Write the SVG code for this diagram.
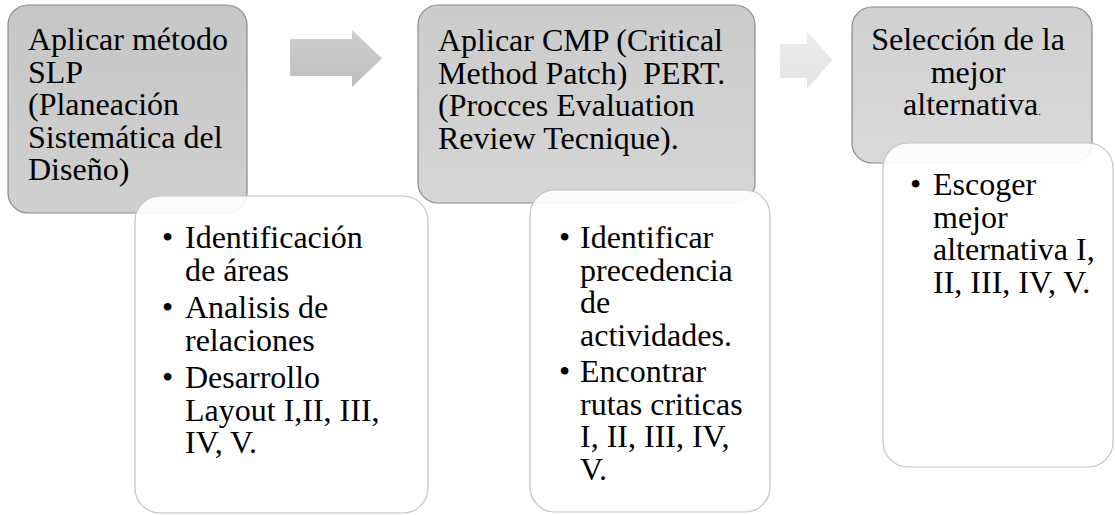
<svg xmlns="http://www.w3.org/2000/svg" width="1115" height="515" viewBox="0 0 1115 515">
  <defs>
    <linearGradient id="g1" x1="0" y1="0" x2="0" y2="1">
      <stop offset="0" stop-color="#c6c6c6"/>
      <stop offset="1" stop-color="#d0d0d0"/>
    </linearGradient>
    <linearGradient id="g2" x1="0" y1="0" x2="0" y2="1">
      <stop offset="0" stop-color="#cbcbcb"/>
      <stop offset="1" stop-color="#d6d6d6"/>
    </linearGradient>
    <linearGradient id="g3" x1="0" y1="0" x2="0" y2="1">
      <stop offset="0" stop-color="#d0d0d0"/>
      <stop offset="1" stop-color="#dadada"/>
    </linearGradient>
    <linearGradient id="ga1" x1="0" y1="0" x2="0" y2="1">
      <stop offset="0" stop-color="#cfcfcf"/>
      <stop offset="1" stop-color="#bdbdbd"/>
    </linearGradient>
    <linearGradient id="ga2" x1="0" y1="0" x2="0" y2="1">
      <stop offset="0" stop-color="#ececec"/>
      <stop offset="1" stop-color="#e3e3e3"/>
    </linearGradient>
  </defs>
  <style>
    .head { stroke: #8a8a8a; stroke-width: 1.2; }
    .sub { fill: #ffffff; fill-opacity: 0.9; stroke: #c4c4c4; stroke-width: 1.2; }
    text { font-family: "Liberation Serif", "Times New Roman", serif; font-size: 32px; fill: #000000; }
  </style>

  <!-- flow arrows between steps -->
  <g id="connectors">
    <polygon points="290,39 352,39 352,30 382,58.5 352,87 352,76 290,76" fill="url(#ga1)"/>
    <polygon points="780,44 807,44 807,31 832,60 807,89 807,78 780,78" fill="url(#ga2)"/>
  </g>

  <!-- step 1 -->
  <g id="step1">
    <rect class="head" x="8" y="5" width="239" height="208" rx="20" fill="url(#g1)"/>
    <text x="28">
      <tspan x="28" y="50">Aplicar método</tspan>
      <tspan x="28" y="82.5">SLP</tspan>
      <tspan x="28" y="115">(Planeación</tspan>
      <tspan x="28" y="147.5">Sistemática del</tspan>
      <tspan x="28" y="180">Diseño)</tspan>
    </text>
  </g>
  <g id="step1-detail">
    <rect class="sub" x="135" y="196" width="293" height="317" rx="25"/>
    <text x="162" y="248">•</text>
    <text x="185" y="248">Identificación</text>
    <text x="185" y="280.5">de áreas</text>
    <text x="162" y="318">•</text>
    <text x="185" y="318">Analisis de</text>
    <text x="185" y="350.5">relaciones</text>
    <text x="162" y="388">•</text>
    <text x="185" y="388">Desarrollo</text>
    <text x="185" y="420.5">Layout I,II, III,</text>
    <text x="185" y="453">IV, V.</text>
  </g>

  <!-- step 2 -->
  <g id="step2">
    <rect class="head" x="418" y="5" width="337" height="198" rx="20" fill="url(#g2)"/>
    <text>
      <tspan x="438" y="51">Aplicar CMP (Critical</tspan>
      <tspan x="438" y="83.5" xml:space="preserve">Method Patch)  PERT.</tspan>
      <tspan x="438" y="116">(Procces Evaluation</tspan>
      <tspan x="438" y="148.5">Review Tecnique).</tspan>
    </text>
  </g>
  <g id="step2-detail">
    <rect class="sub" x="530" y="190" width="240" height="322" rx="25"/>
    <text x="559" y="248">•</text>
    <text x="580" y="248">Identificar</text>
    <text x="580" y="280.5">precedencia</text>
    <text x="580" y="313">de</text>
    <text x="580" y="345.5">actividades.</text>
    <text x="559" y="382">•</text>
    <text x="580" y="382">Encontrar</text>
    <text x="580" y="414.5">rutas criticas</text>
    <text x="580" y="447">I, II, III, IV,</text>
    <text x="580" y="479.5">V.</text>
  </g>

  <!-- step 3 -->
  <g id="step3">
    <rect class="head" x="852" y="7" width="240" height="156" rx="20" fill="url(#g3)"/>
    <text text-anchor="middle">
      <tspan x="972" y="50">Selección de la</tspan>
      <tspan x="972" y="82.5">mejor</tspan>
      <tspan x="972" y="115">alternativa<tspan font-size="11">.</tspan></tspan>
    </text>
  </g>
  <g id="step3-detail">
    <rect class="sub" x="883" y="143" width="230" height="324" rx="25"/>
    <text x="910" y="195">•</text>
    <text x="933" y="195">Escoger</text>
    <text x="933" y="227.5">mejor</text>
    <text x="933" y="260">alternativa I,</text>
    <text x="933" y="292.5">II, III, IV, V.</text>
  </g>
</svg>
